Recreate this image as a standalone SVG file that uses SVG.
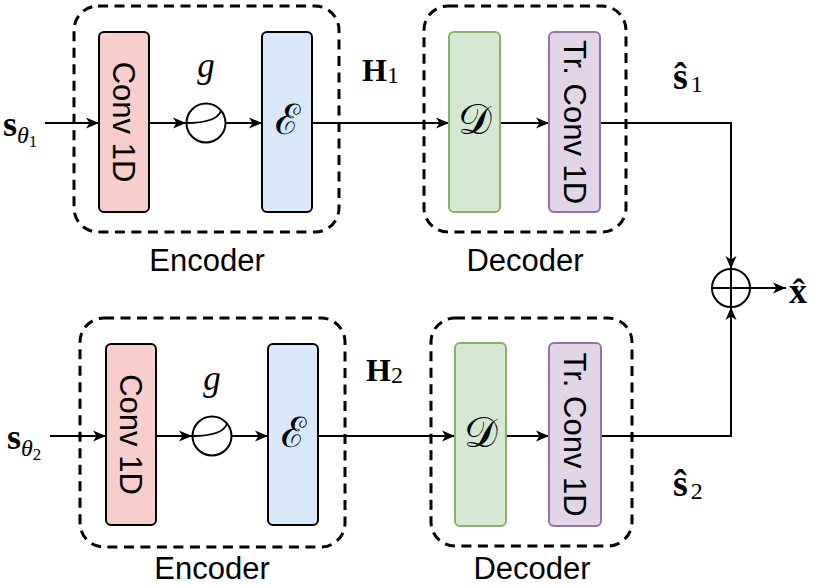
<svg xmlns="http://www.w3.org/2000/svg" width="813" height="586" viewBox="0 0 813 586">
<style>
.grp{fill:none;stroke:#000;stroke-width:3;stroke-dasharray:10 6.5}
.conv{fill:#f8cecc;stroke:#000;stroke-width:2}
.enc{fill:#dae8fc;stroke:#000;stroke-width:2}
.dec{fill:#d5e8d4;stroke:#82b366;stroke-width:2}
.tr{fill:#e1d5e7;stroke:#9673a6;stroke-width:2}
.ln{fill:none;stroke:#000;stroke-width:2}
.arr{fill:none;stroke:#000;stroke-width:2;marker-end:url(#ah)}
.lbl{font-family:"Liberation Sans",Arial,sans-serif;font-size:31px;fill:#000;text-anchor:middle}
.m{font-family:"Liberation Serif","DejaVu Serif",serif;fill:#000}
.cal{font-family:"DejaVu Serif","Liberation Serif",serif;font-size:42px;fill:#000;text-anchor:middle}
</style>
<defs>
<marker id="ah" markerUnits="userSpaceOnUse" markerWidth="13" markerHeight="11" refX="13" refY="5.5" orient="auto" overflow="visible">
<path d="M0,0 L13,5.5 L0,11 L3.5,5.5 z" fill="#000"/>
</marker>
</defs>

<g id="connectors">
<line class="arr" x1="45" y1="123" x2="99" y2="123"/>
<line class="arr" x1="149" y1="123" x2="186" y2="123"/>
<line class="arr" x1="225" y1="123" x2="262" y2="123"/>
<line class="arr" x1="312" y1="123" x2="449" y2="123"/>
<line class="arr" x1="500" y1="123" x2="549" y2="123"/>
<polyline class="arr" points="600,123 731,123 731,269"/>
<line class="arr" x1="50" y1="436" x2="106" y2="436"/>
<line class="arr" x1="156" y1="436" x2="192" y2="436"/>
<line class="arr" x1="231" y1="436" x2="268" y2="436"/>
<line class="arr" x1="318" y1="436" x2="455" y2="436"/>
<line class="arr" x1="506" y1="436" x2="549" y2="436"/>
<polyline class="arr" points="601,436 731,436 731,307"/>
<line class="arr" x1="750" y1="288" x2="786" y2="288"/>
</g>

<g id="encoder1">
<rect class="grp" x="74" y="6" width="265" height="226" rx="24"/>
<text class="lbl" x="207" y="271">Encoder</text>
</g>
<g id="conv1">
<rect class="conv" x="99" y="32" width="50" height="180" rx="5"/>
<text class="lbl" transform="translate(124,122) rotate(90)" y="11">Conv 1D</text>
</g>
<g id="g1">
<circle class="ln" cx="206" cy="123" r="19.5"/>
<path class="ln" d="M186.5,123 C200,123 217,121 221,111"/>
<text class="m" x="206" y="77" font-size="35" font-style="italic" text-anchor="middle">g</text>
</g>
<g id="E1">
<rect class="enc" x="262" y="32" width="50" height="180" rx="5"/>
<text class="cal" x="287" y="134">ℰ</text>
</g>
<g id="H1">
<text class="m" x="362" y="81" font-size="32" font-weight="bold">H<tspan font-weight="normal" font-size="24" dy="2">1</tspan></text>
</g>
<g id="decoder1">
<rect class="grp" x="424" y="6" width="202" height="226" rx="24"/>
<text class="lbl" x="525" y="271">Decoder</text>
</g>
<g id="D1">
<rect class="dec" x="449" y="32" width="51" height="180" rx="5"/>
<text class="cal" x="475" y="134">𝒟</text>
</g>
<g id="trconv1">
<rect class="tr" x="549" y="32" width="51" height="180" rx="5"/>
<text class="lbl" transform="translate(574.5,122) rotate(90)" y="11">Tr. Conv 1D</text>
</g>

<g id="encoder2">
<rect class="grp" x="80" y="318" width="265" height="229" rx="24"/>
<text class="lbl" x="212" y="579">Encoder</text>
</g>
<g id="conv2">
<rect class="conv" x="106" y="344" width="50" height="181" rx="5"/>
<text class="lbl" transform="translate(131,434.5) rotate(90)" y="11">Conv 1D</text>
</g>
<g id="g2">
<circle class="ln" cx="212" cy="436" r="19.5"/>
<path class="ln" d="M192.5,436 C206,436 223,434 227,424"/>
<text class="m" x="212" y="390" font-size="35" font-style="italic" text-anchor="middle">g</text>
</g>
<g id="E2">
<rect class="enc" x="268" y="344" width="50" height="181" rx="5"/>
<text class="cal" x="293" y="447">ℰ</text>
</g>
<g id="H2">
<text class="m" x="366" y="381" font-size="32" font-weight="bold">H<tspan font-weight="normal" font-size="24" dy="2">2</tspan></text>
</g>
<g id="decoder2">
<rect class="grp" x="431" y="318" width="201" height="228" rx="24"/>
<text class="lbl" x="532" y="579">Decoder</text>
</g>
<g id="D2">
<rect class="dec" x="455" y="343" width="51" height="183" rx="5"/>
<text class="cal" x="481" y="447">𝒟</text>
</g>
<g id="trconv2">
<rect class="tr" x="549" y="343" width="52" height="183" rx="5"/>
<text class="lbl" transform="translate(575,434.5) rotate(90)" y="11">Tr. Conv 1D</text>
</g>

<g id="sum">
<circle class="ln" cx="731" cy="288" r="19"/>
<line class="ln" x1="712" y1="288" x2="750" y2="288"/>
<line class="ln" x1="731" y1="269" x2="731" y2="307"/>
</g>

<g id="labels">
<text class="m" x="3" y="136" font-size="36" font-weight="bold">s<tspan font-weight="normal" font-style="italic" font-size="24" dy="7">θ</tspan><tspan font-weight="normal" font-size="17" dy="4">1</tspan></text>
<text class="m" x="7" y="449" font-size="36" font-weight="bold">s<tspan font-weight="normal" font-style="italic" font-size="24" dy="7">θ</tspan><tspan font-weight="normal" font-size="17" dy="4">2</tspan></text>
<text class="m" x="673" y="89" font-size="38" font-weight="bold">ŝ<tspan font-weight="normal" font-size="24" dx="3" dy="3">1</tspan></text>
<text class="m" x="673" y="496" font-size="38" font-weight="bold">ŝ<tspan font-weight="normal" font-size="24" dx="3" dy="3">2</tspan></text>
<text class="m" x="789" y="303" font-size="36" font-weight="bold">x̂</text>
</g>
</svg>
